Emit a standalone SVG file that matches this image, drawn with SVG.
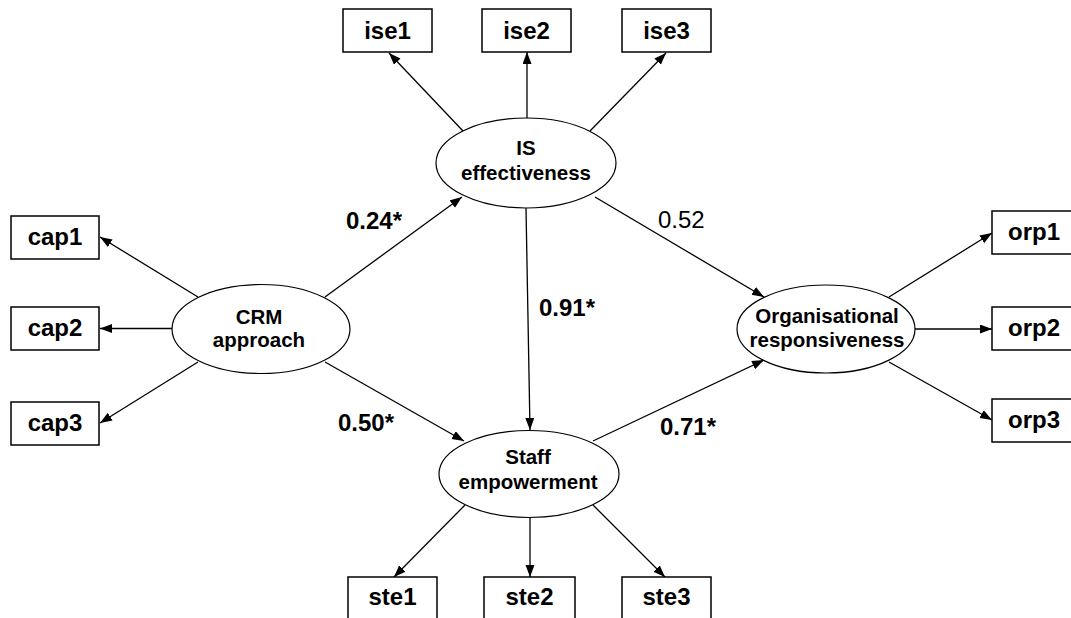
<svg xmlns="http://www.w3.org/2000/svg" width="1071" height="618" viewBox="0 0 1071 618">
<style>
.box{fill:#fff;stroke:#000;stroke-width:1.5}
.lat{fill:#fff;stroke:#000;stroke-width:1.2}
.bl{font-family:"Liberation Sans",Arial,sans-serif;font-weight:bold;font-size:24px;text-anchor:middle;fill:#000}
.ll{font-family:"Liberation Sans",Arial,sans-serif;font-weight:bold;font-size:20.5px;text-anchor:middle;fill:#000}
.el{font-family:"Liberation Sans",Arial,sans-serif;font-weight:bold;font-size:24px;fill:#000}
.er{font-family:"Liberation Sans",Arial,sans-serif;font-size:24px;fill:#000}
.c line{stroke:#000;stroke-width:1.3;marker-end:url(#ah)}
</style>
<defs>
<marker id="ah" markerUnits="userSpaceOnUse" markerWidth="13" markerHeight="10" refX="12" refY="4.5" orient="auto">
<path d="M0,0 L12,4.5 L0,9 z" fill="#000"/>
</marker>
</defs>
<rect width="1071" height="618" fill="#fff"/>
<g id="connectors" class="c">
<line x1="463" y1="131" x2="389" y2="53"/>
<line x1="527" y1="118" x2="527" y2="52"/>
<line x1="590" y1="131" x2="666" y2="53"/>
<line x1="198" y1="297" x2="100" y2="237"/>
<line x1="172" y1="328.5" x2="100" y2="328.5"/>
<line x1="198" y1="362" x2="100" y2="423"/>
<line x1="325" y1="297" x2="462" y2="197"/>
<line x1="325" y1="362" x2="464" y2="441"/>
<line x1="526" y1="208" x2="530" y2="430"/>
<line x1="595" y1="197" x2="764" y2="297"/>
<line x1="593" y1="441" x2="764" y2="360"/>
<line x1="889" y1="297" x2="992" y2="233"/>
<line x1="915" y1="329" x2="992" y2="329"/>
<line x1="889" y1="362" x2="992" y2="420"/>
<line x1="465" y1="505" x2="394" y2="577"/>
<line x1="530" y1="517" x2="530" y2="577"/>
<line x1="593" y1="505" x2="665" y2="577"/>
</g>
<g id="edge-labels">
<text class="el" x="346" y="229">0.24*</text>
<text class="el" x="338" y="431">0.50*</text>
<text class="el" x="539" y="316">0.91*</text>
<text class="er" x="658" y="228">0.52</text>
<text class="el" x="660" y="435">0.71*</text>
</g>
<g id="is"><ellipse class="lat" cx="526" cy="163" rx="90" ry="45"/><text class="ll" x="526" y="155">IS</text><text class="ll" x="526" y="180">effectiveness</text></g>
<g id="crm"><ellipse class="lat" cx="261" cy="329" rx="89" ry="44.5"/><text class="ll" x="259" y="324">CRM</text><text class="ll" x="259" y="347">approach</text></g>
<g id="org"><ellipse class="lat" cx="826" cy="329" rx="89" ry="44"/><text class="ll" x="827" y="323">Organisational</text><text class="ll" x="827" y="347">responsiveness</text></g>
<g id="staff"><ellipse class="lat" cx="529" cy="474" rx="90" ry="43.5"/><text class="ll" x="528" y="464">Staff</text><text class="ll" x="528" y="489">empowerment</text></g>
<g id="ise1"><rect class="box" x="343" y="9" width="89" height="43"/><text class="bl" x="387.5" y="38.5">ise1</text></g>
<g id="ise2"><rect class="box" x="482" y="9" width="89" height="43"/><text class="bl" x="526.5" y="38.5">ise2</text></g>
<g id="ise3"><rect class="box" x="622" y="9" width="89" height="43"/><text class="bl" x="666.5" y="38.5">ise3</text></g>
<g id="cap1"><rect class="box" x="11" y="216" width="88" height="43"/><text class="bl" x="55" y="245">cap1</text></g>
<g id="cap2"><rect class="box" x="11" y="307" width="88" height="43"/><text class="bl" x="55" y="336">cap2</text></g>
<g id="cap3"><rect class="box" x="11" y="402" width="88" height="43"/><text class="bl" x="55" y="431">cap3</text></g>
<g id="orp1"><rect class="box" x="992" y="211" width="88" height="43"/><text class="bl" x="1034" y="240">orp1</text></g>
<g id="orp2"><rect class="box" x="992" y="307" width="88" height="43"/><text class="bl" x="1034" y="336">orp2</text></g>
<g id="orp3"><rect class="box" x="992" y="399" width="88" height="43"/><text class="bl" x="1034" y="428">orp3</text></g>
<g id="ste1"><rect class="box" x="348" y="577" width="89" height="50"/><text class="bl" x="392.5" y="605">ste1</text></g>
<g id="ste2"><rect class="box" x="484" y="577" width="91" height="50"/><text class="bl" x="529.5" y="605">ste2</text></g>
<g id="ste3"><rect class="box" x="622" y="577" width="89" height="50"/><text class="bl" x="666.5" y="605">ste3</text></g>
</svg>
